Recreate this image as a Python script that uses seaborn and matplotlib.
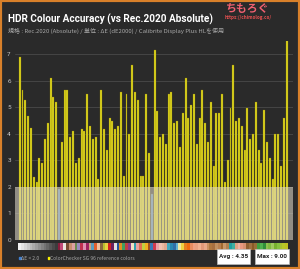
import matplotlib
matplotlib.use("Agg")
import matplotlib.pyplot as plt
from matplotlib.patches import Rectangle
import seaborn as sns
import numpy as np

# dE2000 per ColorChecker SG patch (96 patches)
delta_e = [6.88, 5.67, 5.27, 4.68, 4.20, 2.38, 2.19, 3.10, 2.88, 3.80, 4.39, 6.09, 5.37, 5.18, 1.90, 3.67,
           5.67, 5.67, 3.89, 4.10, 2.88, 3.10, 4.19, 4.10, 5.49, 4.29, 3.80, 3.89, 2.29, 5.67, 4.19, 3.38,
           4.58, 4.49, 4.19, 4.29, 5.59, 2.40, 5.49, 3.99, 6.59, 5.59, 5.27, 2.40, 2.40, 5.49, 3.28, 1.72,
           7.16, 4.87, 3.89, 3.98, 3.60, 5.49, 5.57, 4.39, 4.48, 3.49, 4.78, 6.09, 4.59, 5.08, 5.49, 3.60,
           4.58, 5.67, 4.39, 3.67, 5.18, 2.78, 4.78, 4.78, 5.49, 2.19, 3.00, 4.98, 6.59, 4.49, 4.58, 4.29,
           3.38, 4.98, 3.80, 3.99, 5.18, 3.38, 2.88, 4.88, 3.67, 3.10, 2.29, 3.99, 3.99, 2.78, 4.58, 9.00]

# approximate reference patch colours shown in the strip under the bars
patch_colors = ["#f2f2f2", "#e4e4e4", "#d6d6d6", "#c8c8c8", "#bababa", "#acacac", "#9e9e9e", "#909090",
                "#828282", "#747474", "#666666", "#585858", "#4a4a4a", "#3c3c3c", "#8a1c3c", "#c24a78",
                "#ece4dc", "#7a4a30", "#c88e6e", "#dca0a2", "#6a8a50", "#9a8ac0", "#c03050", "#e090b0",
                "#a02060", "#d0a080", "#5a9ec0", "#e06030", "#f0c0a0", "#8a6a40", "#b8c030", "#e8d040",
                "#d02020", "#6a2060", "#e0e0e0", "#2050a0", "#e09020", "#40a060", "#c04040", "#8a3a8a",
                "#f0e0c0", "#30a0b0", "#e8a0a0", "#e07050", "#c0d040", "#f0b020", "#a05020", "#3a7ab8",
                "#d03a50", "#e8a0a8", "#f0c0b0", "#e8b8a0", "#e0a890", "#40a8c0", "#2a88b0", "#3070a8",
                "#60b0d0", "#f0e8a0", "#f0d040", "#e88020", "#f06a10", "#e88c60", "#f0a080", "#e8a080",
                "#f0b090", "#e09878", "#e8a888", "#c89060", "#b07840", "#a87040", "#c09060", "#b88050",
                "#a06a30", "#c89868", "#b08050", "#20a0a0", "#40b0a0", "#e0a080", "#f0b0a0", "#e89880",
                "#d89070", "#906030", "#a07040", "#8a5a28", "#987038", "#40a040", "#50b050", "#30903a",
                "#90c050", "#80b840", "#a0c860", "#78b030", "#88c040", "#a8c030", "#b8c828", "#c0c020"]

avg_text = "Avg : 4.35"
max_text = "Max : 9.00"

BG = "#2a2a2a"
BAR = "#fbf200"
LOW = "#3f7fd0"

idx = list(range(len(delta_e)))
bar_colors = [LOW if v < 2 else BAR for v in delta_e]

sns.set_theme(style="dark")
plt.rcParams["font.family"] = ["Noto Sans CJK JP", "DejaVu Sans"]

fig = plt.figure(figsize=(3.0, 2.69), dpi=100, facecolor=BG)

# main bar axes
ax = fig.add_axes([15 / 300, 1 - 239.7 / 269, 278 / 300, 199.2 / 269])
ax.set_facecolor(BG)
sns.barplot(x=idx, y=delta_e, hue=idx, palette=bar_colors, legend=False,
            width=0.7, edgecolor="#8a7800", linewidth=0.2, ax=ax, zorder=2)
ax.set_xlim(-1.67, 97.24)
ax.set_ylim(0, 7.52)
ax.set_yticks(range(0, 8))
ax.set_yticklabels([str(t) for t in range(0, 8)], fontsize=4.6, color="#c8c8c8",
                   family=["Roboto", "DejaVu Sans"])
ax.tick_params(axis="y", length=0, pad=3)
ax.set_xticks([])
ax.set_xlabel("")
ax.set_ylabel("")
ax.grid(axis="y", color="#4a4a4a", linewidth=0.6, zorder=0)
ax.set_axisbelow(True)
for s in ax.spines.values():
    s.set_visible(False)
# pale band for dE < 2
ax.axhspan(0, 2, color="#e4dece", alpha=0.56, zorder=3, lw=0)

# reference colour strip
ax2 = fig.add_axes([15 / 300, 1 - 250 / 269, 278 / 300, 7 / 269])
ax2.set_facecolor(BG)
ax2.bar(idx, [1] * len(idx), width=1.0, color=patch_colors, linewidth=0)
ax2.set_xlim(-1.67, 97.24)
ax2.set_ylim(0, 1)
ax2.axis("off")

# title / subtitle
fig.text(8 / 300, 1 - 19.5 / 269, "HDR Colour Accuracy (vs Rec.2020 Absolute)",
         fontsize=7.2, fontweight="bold", color="white", va="center",
         family=["Roboto", "DejaVu Sans"])
fig.text(8 / 300, 1 - 30.5 / 269,
         "規格 : Rec.2020 (Absolute) / 単位 : ΔE (dE2000) / Calibrite Display Plus HLを使用",
         fontsize=4.3, color="#a8a8a8", va="center")

# logo
fig.text(248 / 300, 1 - 8.5 / 269, "ちもろぐ", fontsize=7.8, fontweight="bold", color="#f06070",
         ha="center", va="center")
fig.text(248 / 300, 1 - 17.5 / 269, "https://chimolog.co/", fontsize=3.3, fontweight="bold",
         color="#e85050", ha="center", va="center")

# legend
fig.add_artist(Rectangle((18.5 / 300, 1 - 259 / 269), 2 / 300, 2 / 269, color=LOW))
fig.text(21 / 300, 1 - 258 / 269, "ΔE < 2.0", fontsize=3.6, color="#a8a8a8", va="center")
fig.add_artist(Rectangle((47.5 / 300, 1 - 259 / 269), 2 / 300, 2 / 269, color=BAR))
fig.text(50 / 300, 1 - 258 / 269, "ColorChecker SG 96 reference colors", fontsize=3.6,
         color="#a8a8a8", va="center")

# avg / max boxes
for x0, x1, txt in [(217, 250, avg_text), (255, 289, max_text)]:
    fig.add_artist(Rectangle((x0 / 300, 1 - 264 / 269), (x1 - x0) / 300, 15 / 269,
                             facecolor="white", edgecolor="#bbbbbb", lw=0.5))
    fig.text((x0 + x1) / 2 / 300, 1 - 256.5 / 269, txt, fontsize=4.6, fontweight="bold",
             color="#222222", ha="center", va="center",
             family=["Roboto", "DejaVu Sans"])

# orange frame
fig.add_artist(Rectangle((0, 0), 1, 1, fill=False, edgecolor="#d8802a", lw=3,
                         transform=fig.transFigure))

fig.savefig("out.png", dpi=100, facecolor=BG)
